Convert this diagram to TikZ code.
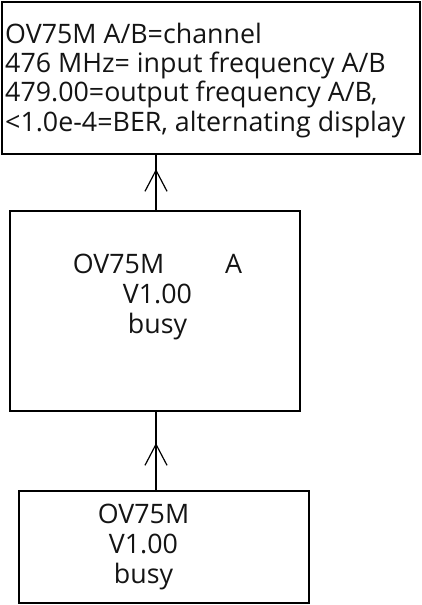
\documentclass[tikz,border=0pt]{standalone}
\usepackage{fontspec}
\setmainfont{Open Sans}
\usetikzlibrary{arrows.meta}
\tikzset{
  boxnode/.style={draw=black, line width=2pt, rectangle, inner sep=0pt},
  txt/.style={inner sep=0pt, text=black!92},
  conn/.style={line width=1.2pt, draw=black},
  tipconn/.style={line width=1.2pt, draw=black, -{Straight Barb[length=21pt,width=22pt,line width=1.2pt]}},
}
\begin{document}
\begin{tikzpicture}[x=1pt,y=-1pt]
\useasboundingbox (0,0) rectangle (422,605);
\node[boxnode, minimum width=418pt, minimum height=152pt] (top) at (211,78) {};
\node[boxnode, minimum width=290pt, minimum height=200.5pt] (mid) at (154.5,310.75) {};
\node[boxnode, minimum width=290.5pt, minimum height=112pt] (bot) at (163.75,546.5) {};
\coordinate (ax) at (156,0);
\node[txt, font=\fontsize{26.8}{29.3}\selectfont, anchor=base west, align=left] (toptext) at (5,131)
  {OV75M A/B=channel\\476 MHz= input frequency A/B\\479.00=output frequency A/B,\\<1.0e-4=BER, alternating display};
\node[txt, font=\fontsize{26.8}{30}\selectfont, anchor=base, align=center] (midtext) at (157.5,333)
  {OV75M\hspace{61pt}A\\V1.00\\busy};
\node[txt, font=\fontsize{26.8}{30}\selectfont, anchor=base, align=center] (bottext) at (143.5,583)
  {OV75M\\V1.00\\busy};
% connectors
\draw[conn] (mid.north -| ax) -- (top.south -| ax);
\draw[tipconn, shorten >=14pt] (mid.north -| ax) -- (top.south -| ax);
\draw[conn] (bot.north -| ax) -- (mid.south -| ax);
\draw[tipconn, shorten >=31pt] (bot.north -| ax) -- (mid.south -| ax);
\end{tikzpicture}
\end{document}
